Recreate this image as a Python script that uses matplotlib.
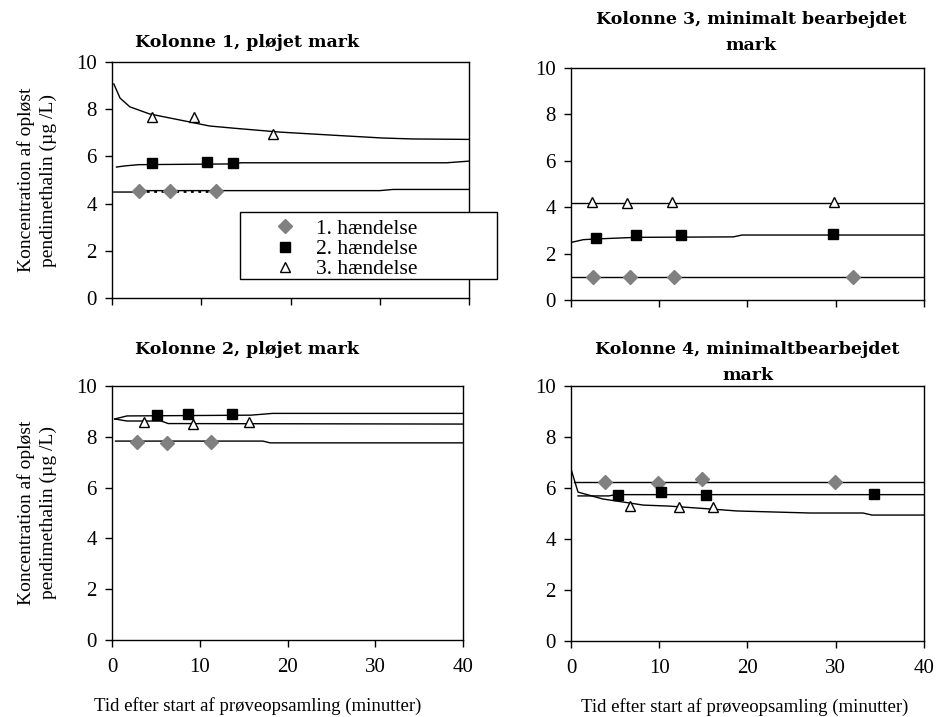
import matplotlib.pyplot as plt
from matplotlib.patches import Rectangle

plt.rcParams['font.family'] = ['Liberation Serif', 'DejaVu Serif']

# Kolonne 1, pløjet mark (measured points + model curves)
k1_h1_t = [3.0, 6.5, 11.6]
k1_h1_c = [4.55, 4.55, 4.55]
k1_h2_t = [4.5, 10.6, 13.5]
k1_h2_c = [5.7, 5.75, 5.7]
k1_h3_t = [4.5, 9.2, 18.0]
k1_h3_c = [7.65, 7.65, 6.95]
k1_m1_t = [0.2, 2.5, 3.2, 30.0, 31.5, 40]
k1_m1_c = [4.49, 4.49, 4.55, 4.55, 4.6, 4.6]
k1_m2_t = [0.5, 1.5, 3.0, 13.0, 14.5, 37.5, 40]
k1_m2_c = [5.55, 5.6, 5.65, 5.68, 5.73, 5.73, 5.8]
k1_m3_t = [0.2, 0.9, 2.0, 4.2, 8.7, 10.9, 13.5, 18.8, 24.7, 30.3, 33.6, 40]
k1_m3_c = [9.07, 8.47, 8.1, 7.8, 7.46, 7.29, 7.2, 7.03, 6.9, 6.78, 6.74, 6.72]

# Kolonne 3, minimalt bearbejdet mark
k3_h1_t = [2.5, 6.7, 11.7, 32.0]
k3_h1_c = [1.0, 1.0, 1.0, 1.0]
k3_h2_t = [2.8, 7.4, 12.5, 29.7]
k3_h2_c = [2.67, 2.8, 2.8, 2.84]
k3_h3_t = [2.4, 6.3, 11.5, 29.8]
k3_h3_c = [4.22, 4.18, 4.22, 4.22]
k3_m1_t = [0, 40]
k3_m1_c = [1.0, 1.0]
k3_m2_t = [0, 1.4, 2.8, 7.4, 18.4, 19.4, 40]
k3_m2_c = [2.48, 2.6, 2.63, 2.7, 2.72, 2.8, 2.8]
k3_m3_t = [0, 40]
k3_m3_c = [4.2, 4.2]

# Kolonne 2, pløjet mark
k2_h1_t = [2.85, 6.3, 11.3]
k2_h1_c = [7.8, 7.76, 7.8]
k2_h2_t = [5.1, 8.7, 13.7]
k2_h2_c = [8.86, 8.9, 8.9]
k2_h3_t = [3.6, 9.2, 15.6]
k2_h3_c = [8.58, 8.5, 8.58]
k2_m1_t = [0.4, 17.2, 18.0, 40]
k2_m1_c = [7.83, 7.83, 7.76, 7.76]
k2_m2_t = [0.3, 1.7, 15.8, 18.3, 40]
k2_m2_c = [8.7, 8.82, 8.85, 8.92, 8.92]
k2_m3_t = [0.3, 1.7, 5.6, 6.4, 40]
k2_m3_c = [8.7, 8.62, 8.62, 8.52, 8.5]

# Kolonne 4, minimaltbearbejdet mark
k4_h1_t = [3.85, 9.9, 14.9, 29.9]
k4_h1_c = [6.24, 6.2, 6.35, 6.24]
k4_h2_t = [5.3, 10.2, 15.3, 34.3]
k4_h2_c = [5.73, 5.84, 5.73, 5.76]
k4_h3_t = [6.7, 12.2, 16.1]
k4_h3_c = [5.3, 5.26, 5.26]
k4_m1_t = [0.3, 40]
k4_m1_c = [6.25, 6.25]
k4_m2_t = [0.8, 4.3, 5.0, 40]
k4_m2_c = [5.69, 5.69, 5.74, 5.74]
k4_m3_t = [0, 0.8, 3.6, 6.7, 8.2, 11.2, 15.7, 18.8, 27.1, 33.1, 34.1, 40]
k4_m3_c = [6.75, 5.84, 5.57, 5.41, 5.33, 5.29, 5.18, 5.1, 5.02, 5.02, 4.94, 4.94]

labels = ['1. hændelse', '2. hændelse', '3. hændelse']
ylabel = 'Koncentration af opløst\npendimethalin (µg /L)'
xlabel = 'Tid efter start af prøveopsamling (minutter)'

GRAY = '#808080'
TITLE_FONT = dict(fontsize=12.5, family='DejaVu Serif', fontweight='bold',
                  linespacing=1.7)


def draw_panel(ax, points, models, title, title_pad, title_x=0.5):
    """Draw model curves and measured points for one column."""
    for t, c in models:
        ax.plot(t, c, color='black', lw=1.0, zorder=2)
    (t1, c1), (t2, c2), (t3, c3) = points
    ax.plot(t1, c1, ls='none', marker='D', ms=7, color=GRAY, mec=GRAY,
            label=labels[0], zorder=3)
    ax.plot(t2, c2, ls='none', marker='s', ms=6.5, color='black',
            label=labels[1], zorder=3)
    ax.plot(t3, c3, ls='none', marker='^', ms=7, mfc='white', mec='black',
            mew=1.0, label=labels[2], zorder=3)
    ax.set_xlim(0, 40)
    ax.set_ylim(0, 10)
    ax.set_xticks([0, 10, 20, 30, 40])
    ax.set_yticks([0, 2, 4, 6, 8, 10])
    ax.tick_params(direction='out', length=5, width=1, labelsize=15, colors='black')
    ax.tick_params(axis='x', pad=8)
    ax.tick_params(axis='y', pad=6)
    for s in ax.spines.values():
        s.set_linewidth(1.0)
    ax.set_title(title, pad=title_pad, x=title_x, **TITLE_FONT)


fig = plt.figure(figsize=(9.36, 7.17), dpi=100)

ax1 = fig.add_axes([0.1197, 0.5844, 0.3814, 0.3291])
ax3 = fig.add_axes([0.6100, 0.5816, 0.3771, 0.3236])
ax2 = fig.add_axes([0.1197, 0.1074, 0.3750, 0.3543])
ax4 = fig.add_axes([0.6100, 0.1060, 0.3771, 0.3556])

draw_panel(ax1, [(k1_h1_t, k1_h1_c), (k1_h2_t, k1_h2_c), (k1_h3_t, k1_h3_c)],
           [(k1_m1_t, k1_m1_c), (k1_m2_t, k1_m2_c), (k1_m3_t, k1_m3_c)],
           'Kolonne 1, pløjet mark', 11, 0.378)
ax1.plot([k1_h1_t[0], k1_h1_t[-1]], [k1_h1_c[0], k1_h1_c[-1]], color='black',
         ls=':', lw=2, zorder=2)
ax1.tick_params(labelbottom=False)

draw_panel(ax3, [(k3_h1_t, k3_h1_c), (k3_h2_t, k3_h2_c), (k3_h3_t, k3_h3_c)],
           [(k3_m1_t, k3_m1_c), (k3_m2_t, k3_m2_c), (k3_m3_t, k3_m3_c)],
           'Kolonne 3, minimalt bearbejdet\nmark', 13, 0.51)
ax3.tick_params(labelbottom=False)

draw_panel(ax2, [(k2_h1_t, k2_h1_c), (k2_h2_t, k2_h2_c), (k2_h3_t, k2_h3_c)],
           [(k2_m1_t, k2_m1_c), (k2_m2_t, k2_m2_c), (k2_m3_t, k2_m3_c)],
           'Kolonne 2, pløjet mark', 23, 0.385)

draw_panel(ax4, [(k4_h1_t, k4_h1_c), (k4_h2_t, k4_h2_c), (k4_h3_t, k4_h3_c)],
           [(k4_m1_t, k4_m1_c), (k4_m2_t, k4_m2_c), (k4_m3_t, k4_m3_c)],
           'Kolonne 4, minimaltbearbejdet\nmark', 4, 0.5)

for ax in (ax1, ax2):
    ax.set_ylabel(ylabel, fontsize=14, labelpad=14, linespacing=1.3)
for ax in (ax2, ax4):
    ax.set_xlabel(xlabel, fontsize=13.5)
ax2.xaxis.set_label_coords(0.416, -0.224)
ax4.xaxis.set_label_coords(0.493, -0.224)

# legend: entries without frame, box drawn separately like the Excel original
leg = ax1.legend(loc='upper left', bbox_to_anchor=(0.4426, 0.335), fontsize=15.5,
                 frameon=False, handletextpad=0.75, labelspacing=0.0,
                 borderpad=0, handlelength=1.4, borderaxespad=0)
leg.set_zorder(5)
ax1.add_patch(Rectangle((0.3585, 0.0805), 0.72, 0.2839, transform=ax1.transAxes,
                        facecolor='white', edgecolor='black', lw=1.0,
                        clip_on=False, zorder=4))

fig.savefig('out.png', dpi=100)
